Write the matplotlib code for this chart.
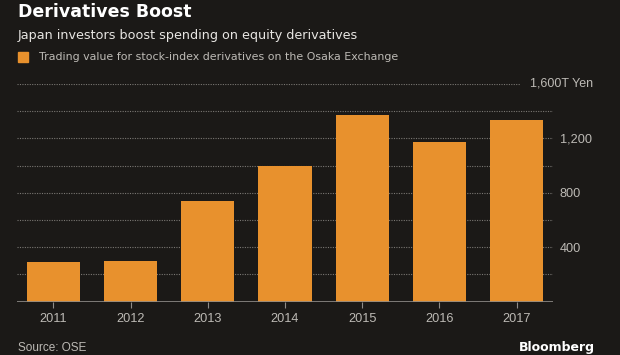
import numpy as np
import matplotlib.pyplot as plt

# Trading value for stock-index derivatives, trillion yen
years = ['2011', '2012', '2013', '2014', '2015', '2016', '2017']
values = [292, 298, 742, 995, 1371, 1173, 1332]
tick_vals = [400, 800, 1200]
grid_vals = [200, 400, 600, 800, 1000, 1200, 1400]

bg = '#1b1917'
orange = '#e8912d'
grey = '#bdbab5'
narrow = ['Liberation Sans', 'DejaVu Sans']

W, H = 620, 355
fig = plt.figure(figsize=(W / 100, H / 100), dpi=100, facecolor=bg)
ax = fig.add_axes([17 / W, (H - 301.5) / H, (553 - 17) / W, (301.5 - 84) / H])
ax.set_facecolor(bg)

x = np.arange(len(years))
ax.bar(x, values, width=0.69, color=orange, zorder=3)

# dotted gridlines
for g in grid_vals:
    ax.axhline(g, color='#7a7773', lw=0.8, ls=(0, (1, 1.2)), zorder=1)
ax.axhline(1600, xmax=(520 - 17) / (553 - 17), color='#7a7773', lw=0.8,
           ls=(0, (1, 1.2)), zorder=1)
ax.axhline(0, color='#8f8c88', lw=1.2, zorder=4)

ax.set_xlim(-0.473, 6.473)
ax.set_ylim(0, 1600)
for s in ax.spines.values():
    s.set_visible(False)

ax.set_xticks(x)
ax.set_xticklabels(years, family=narrow, fontsize=9.2)
ax.tick_params(axis='x', length=4, width=0.8, color='#8f8c88', colors=grey, pad=4)
ax.yaxis.tick_right()
ax.set_yticks(tick_vals)
ax.set_yticklabels([f'{v:,}' for v in tick_vals], family=narrow, fontsize=9.2)
ax.tick_params(axis='y', length=0, colors=grey, pad=5)
ax.text(530 / W, (H - 84) / H, '1,600T Yen', transform=fig.transFigure,
        color=grey, fontsize=9, family=narrow, va='center', ha='left')

# header
fig.text(18 / W, 1 - 12 / H, 'Derivatives Boost', color='white', fontsize=12.5,
         fontweight='bold', va='center', ha='left')
fig.text(18 / W, 1 - 36 / H, 'Japan investors boost spending on equity derivatives',
         color='#e8e6e3', fontsize=9.2, va='center', ha='left')
fig.patches.append(plt.Rectangle((18 / W, 1 - 62 / H), 10 / W, 10 / H,
                                 transform=fig.transFigure, color=orange))
fig.text(39 / W, 1 - 57 / H,
         'Trading value for stock-index derivatives on the Osaka Exchange',
         color=grey, fontsize=7.9, va='center', ha='left')

# footer
fig.text(18 / W, 1 - 348 / H, 'Source: OSE', color=grey, fontsize=8.5,
         family=narrow, va='center', ha='left')
fig.text(595 / W, 1 - 354 / H, 'Bloomberg', color='white', fontsize=9,
         fontweight='bold', va='bottom', ha='right')

fig.savefig('out.png', dpi=100, facecolor=bg)
